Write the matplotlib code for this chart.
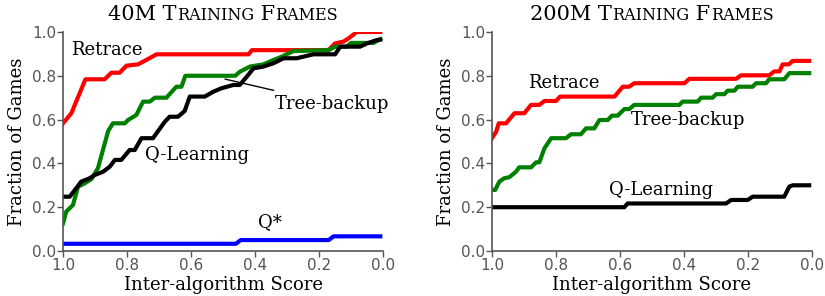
import matplotlib
matplotlib.use('Agg')
import matplotlib.pyplot as plt

# Scores (x) and fraction of games (y)
# 40M training frames
ret40_x = [1.0, 0.974, 0.930, 0.870, 0.849, 0.823, 0.802, 0.766, 0.740, 0.708, 0.420, 0.410, 0.171, 0.150, 0.124, 0.108, 0.082, 0.009]
ret40_y = [0.583, 0.629, 0.784, 0.784, 0.814, 0.814, 0.846, 0.852, 0.872, 0.898, 0.898, 0.917, 0.917, 0.948, 0.956, 0.971, 1.0, 1.0]
tb40_x = [1.0, 0.99, 0.969, 0.953, 0.932, 0.911, 0.891, 0.859, 0.844, 0.807, 0.797, 0.771, 0.750, 0.729, 0.713, 0.677, 0.646, 0.630, 0.618,
          0.462, 0.447, 0.416, 0.374, 0.343, 0.317, 0.280, 0.170, 0.150, 0.115, 0.100, 0.030, 0.009]
tb40_y = [0.126, 0.18, 0.21, 0.294, 0.309, 0.329, 0.378, 0.548, 0.583, 0.583, 0.598, 0.621, 0.682, 0.682, 0.70, 0.70, 0.75, 0.75, 0.80,
          0.80, 0.819, 0.842, 0.852, 0.872, 0.887, 0.913, 0.917, 0.933, 0.933, 0.95, 0.95, 0.967]
ql40_x = [1.0, 0.979, 0.943, 0.917, 0.901, 0.875, 0.854, 0.838, 0.818, 0.792, 0.776, 0.755, 0.719, 0.693, 0.682, 0.667, 0.641, 0.620,
          0.604, 0.557, 0.531, 0.505, 0.468, 0.448, 0.426, 0.405, 0.374, 0.343, 0.311, 0.270, 0.218, 0.150, 0.134, 0.072, 0.050, 0.020, 0.009]
ql40_y = [0.248, 0.248, 0.317, 0.332, 0.347, 0.362, 0.385, 0.416, 0.416, 0.461, 0.461, 0.515, 0.515, 0.568, 0.59, 0.613, 0.613, 0.639,
          0.705, 0.705, 0.727, 0.743, 0.758, 0.758, 0.796, 0.834, 0.842, 0.857, 0.88, 0.88, 0.898, 0.898, 0.933, 0.933, 0.948, 0.963, 0.965]
qs40_x = [1.0, 0.460, 0.445, 0.170, 0.155, 0.009]
qs40_y = [0.033, 0.033, 0.05, 0.05, 0.067, 0.067]

# 200M training frames
ret200_x = [1.0, 0.987, 0.979, 0.956, 0.930, 0.899, 0.878, 0.852, 0.836, 0.800, 0.787, 0.617, 0.591, 0.571, 0.555, 0.398, 0.383,
            0.237, 0.221, 0.133, 0.117, 0.101, 0.091, 0.072, 0.059, 0.008]
ret200_y = [0.515, 0.545, 0.583, 0.583, 0.629, 0.629, 0.667, 0.667, 0.685, 0.685, 0.705, 0.705, 0.75, 0.75, 0.766, 0.766, 0.786,
            0.786, 0.802, 0.802, 0.82, 0.82, 0.852, 0.852, 0.868, 0.868]
tb200_x = [1.0, 0.99, 0.977, 0.962, 0.946, 0.925, 0.915, 0.878, 0.862, 0.852, 0.836, 0.815, 0.769, 0.753, 0.722, 0.706, 0.680, 0.664,
           0.638, 0.625, 0.607, 0.586, 0.571, 0.555, 0.414, 0.404, 0.357, 0.346, 0.310, 0.299, 0.273, 0.263, 0.242, 0.231, 0.185,
           0.174, 0.143, 0.133, 0.086, 0.070, 0.008]
tb200_y = [0.279, 0.279, 0.317, 0.332, 0.337, 0.362, 0.382, 0.382, 0.405, 0.405, 0.469, 0.515, 0.515, 0.533, 0.533, 0.56, 0.56, 0.598,
           0.598, 0.618, 0.618, 0.648, 0.648, 0.667, 0.667, 0.682, 0.682, 0.70, 0.70, 0.716, 0.716, 0.732, 0.732, 0.75, 0.75,
           0.766, 0.766, 0.784, 0.784, 0.812, 0.812]
ql200_x = [1.0, 0.586, 0.576, 0.268, 0.252, 0.200, 0.185, 0.086, 0.070, 0.059, 0.008]
ql200_y = [0.20, 0.20, 0.217, 0.217, 0.233, 0.233, 0.248, 0.248, 0.294, 0.30, 0.30]

serif = 'DejaVu Serif'
tick_gray = '#555555'

fig = plt.figure(figsize=(8.25, 2.96), dpi=100)
ax1 = fig.add_axes([0.0764, 0.152, 0.388, 0.740])
ax2 = fig.add_axes([0.5964, 0.152, 0.3875, 0.740])

ax1.plot(ret40_x, ret40_y, color='red', lw=3)
ax1.plot(tb40_x, tb40_y, color='green', lw=3)
ax1.plot(ql40_x, ql40_y, color='black', lw=3)
ax1.plot(qs40_x, qs40_y, color='blue', lw=3)

ax2.plot(ret200_x, ret200_y, color='red', lw=3)
ax2.plot(tb200_x, tb200_y, color='green', lw=3)
ax2.plot(ql200_x, ql200_y, color='black', lw=3)

for ax in (ax1, ax2):
    ax.set_xlim(1.0, 0.0)
    ax.set_ylim(0.0, 1.0)
    ax.set_xticks([1.0, 0.8, 0.6, 0.4, 0.2, 0.0])
    ax.set_yticks([0.0, 0.2, 0.4, 0.6, 0.8, 1.0])
    ax.set_xticklabels(['1.0', '0.8', '0.6', '0.4', '0.2', '0.0'])
    ax.set_yticklabels(['0.0', '0.2', '0.4', '0.6', '0.8', '1.0'])
    for s in ('top', 'right'):
        ax.spines[s].set_visible(False)
    for s in ('left', 'bottom'):
        ax.spines[s].set_color(tick_gray)
        ax.spines[s].set_linewidth(1.2)
    ax.tick_params(colors=tick_gray, labelsize=11, length=4, width=1, pad=1)
    ax.set_xlabel('Inter-algorithm Score', family=serif, fontsize=13, labelpad=2)
    ax.set_ylabel('Fraction of Games', family=serif, fontsize=13, labelpad=4)

# curve labels
ax1.text(0.863, 0.918, 'Retrace', family=serif, fontsize=13, ha='center', va='center')
ax1.text(0.58, 0.438, 'Q-Learning', family=serif, fontsize=13, ha='center', va='center')
ax1.text(0.353, 0.134, 'Q*', family=serif, fontsize=13, ha='center', va='center')
ax1.annotate('Tree-backup', xy=(0.494, 0.785), xytext=(0.158, 0.671), family=serif, fontsize=13,
             ha='center', va='center', arrowprops=dict(arrowstyle='-', color='black', lw=1, shrinkA=6, shrinkB=0))

ax2.text(0.774, 0.766, 'Retrace', family=serif, fontsize=13, ha='center', va='center')
ax2.text(0.387, 0.598, 'Tree-backup', family=serif, fontsize=13, ha='center', va='center')
ax2.text(0.472, 0.279, 'Q-Learning', family=serif, fontsize=13, ha='center', va='center')

# small-caps titles built from pieces
renderer = fig.canvas.get_renderer()


def smallcaps_title(ax, parts, y_px):
    texts = [fig.text(0, 0, s, family=serif, fontsize=fs, va='baseline', ha='left') for s, fs in parts]
    widths = [t.get_window_extent(renderer).width for t in texts]
    bb = ax.get_window_extent(renderer)
    x = (bb.x0 + bb.x1) / 2 - sum(widths) / 2
    W, H = fig.bbox.width, fig.bbox.height
    for t, w in zip(texts, widths):
        t.set_position((x / W, (H - y_px) / H))
        x += w


smallcaps_title(ax1, [('40M T', 15), ('RAINING', 11.5), (' F', 15), ('RAMES', 11.5)], 20)
smallcaps_title(ax2, [('200M T', 15), ('RAINING', 11.5), (' F', 15), ('RAMES', 11.5)], 20)

plt.savefig('out.png', dpi=100)
